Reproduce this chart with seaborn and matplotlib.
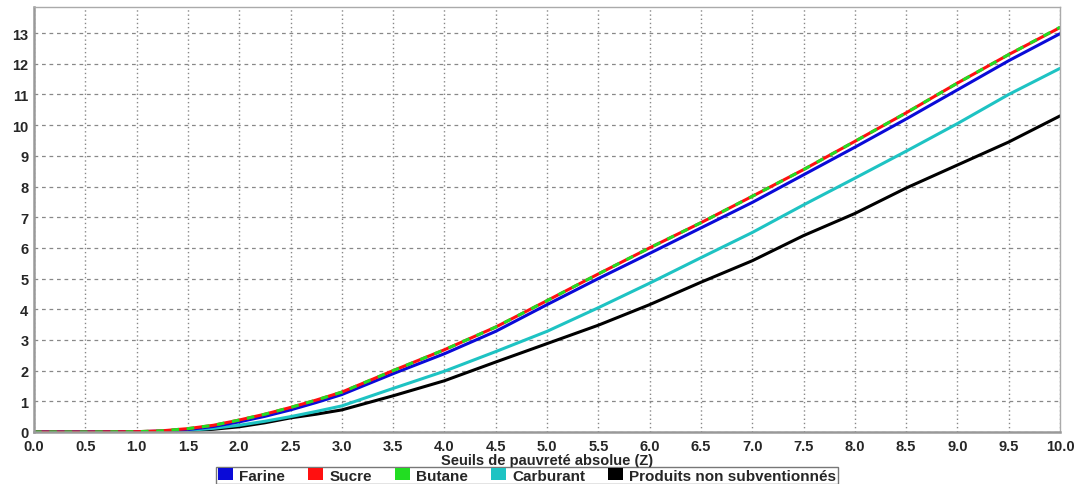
import matplotlib
matplotlib.use("Agg")
import matplotlib.pyplot as plt
import matplotlib.patches as mpatches
import seaborn as sns
import pandas as pd

z = [0.0, 0.5, 1.0, 1.25, 1.5, 1.75, 2.0, 2.25, 2.5, 2.75, 3.0, 3.5, 4.0, 4.5, 5.0, 5.5, 6.0, 6.5, 7.0, 7.5, 8.0, 8.5, 9.0, 9.5, 10.0]
farine = [0, 0, 0.01, 0.03, 0.08, 0.18, 0.33, 0.51, 0.72, 0.96, 1.22, 1.90, 2.55, 3.28, 4.15, 5.00, 5.82, 6.65, 7.48, 8.38, 9.28, 10.20, 11.15, 12.10, 12.98]
sucre = [0, 0, 0.01, 0.04, 0.11, 0.22, 0.39, 0.58, 0.80, 1.04, 1.30, 2.00, 2.68, 3.42, 4.28, 5.15, 6.00, 6.82, 7.68, 8.55, 9.47, 10.40, 11.37, 12.30, 13.18]
butane = [0, 0, 0.01, 0.04, 0.11, 0.22, 0.39, 0.58, 0.80, 1.04, 1.30, 2.00, 2.68, 3.42, 4.28, 5.15, 6.00, 6.82, 7.68, 8.55, 9.47, 10.40, 11.37, 12.30, 13.19]
carburant = [0, 0, 0.005, 0.02, 0.05, 0.12, 0.22, 0.35, 0.50, 0.67, 0.85, 1.42, 1.98, 2.62, 3.28, 4.05, 4.85, 5.68, 6.50, 7.40, 8.27, 9.15, 10.05, 11.00, 11.85]
non_subv = [0, 0, 0.005, 0.015, 0.04, 0.09, 0.17, 0.30, 0.46, 0.58, 0.72, 1.18, 1.67, 2.28, 2.88, 3.48, 4.15, 4.88, 5.58, 6.40, 7.12, 7.95, 8.70, 9.45, 10.30]

names = ["Farine", "Sucre", "Butane", "Carburant", "Produits non subventionnés"]
series = [farine, sucre, butane, carburant, non_subv]
colors = ["#0a0ad8", "#ff1010", "#22dd22", "#1ec3c3", "#000000"]

sns.set_style("white")
plt.rcParams["font.family"] = ["Liberation Sans", "DejaVu Sans"]
plt.rcParams["font.weight"] = "bold"

fig = plt.figure(figsize=(10.81, 4.85), dpi=100)
ax = fig.add_axes([34 / 1081, 1 - 433 / 485, (1060 - 34) / 1081, (433 - 8) / 485])

for i in [4, 3, 0, 1, 2]:
    df = pd.DataFrame({"z": z, "v": series[i]})
    ls = (0, (2.5, 2.5)) if names[i] == "Butane" else "-"
    sns.lineplot(data=df, x="z", y="v", ax=ax, color=colors[i], linewidth=2.2,
                 linestyle=ls, legend=False)

ax.set_xlim(0, 10)
ax.set_ylim(0, 13.85)
ax.set_xticks([i * 0.5 for i in range(21)])
ax.set_xticklabels([f"{i * 0.5:.1f}" for i in range(21)])
ax.set_yticks(range(14))
ax.tick_params(axis="both", labelsize=10.5, length=3, width=1, color="#888888")
ax.tick_params(axis="x", pad=2)
ax.tick_params(axis="y", pad=1)
for lab in ax.get_xticklabels() + ax.get_yticklabels():
    lab.set_fontweight("bold")

ax.grid(True, axis="y", linestyle=(0, (3, 3)), color="#888888", linewidth=0.9)
ax.grid(True, axis="x", linestyle=(0, (1, 2)), color="#888888", linewidth=1.0)
for side in ["left", "bottom"]:
    ax.spines[side].set_color("#999999")
    ax.spines[side].set_linewidth(1.8)
for side in ["top", "right"]:
    ax.spines[side].set_color("#aaaaaa")
    ax.spines[side].set_linewidth(1.0)

ax.set_xlabel("Seuils de pauvreté absolue (Z)", fontsize=10.5, fontweight="bold", labelpad=0)
ax.set_ylabel("")

handles = [mpatches.Patch(facecolor=c, edgecolor="none", label=n) for c, n in zip(colors, names)]
leg = fig.legend(handles=handles, loc="center", bbox_to_anchor=(527 / 1081, 1 - 476.5 / 485),
                 ncol=5, frameon=True, fancybox=False, handlelength=1.0, handleheight=0.85,
                 handletextpad=0.4, columnspacing=1.5, borderpad=0.1,
                 prop={"size": 11, "weight": "bold"})
leg.get_frame().set_edgecolor("#555555")
leg.get_frame().set_linewidth(1.0)

fig.savefig("out.png", dpi=100)
